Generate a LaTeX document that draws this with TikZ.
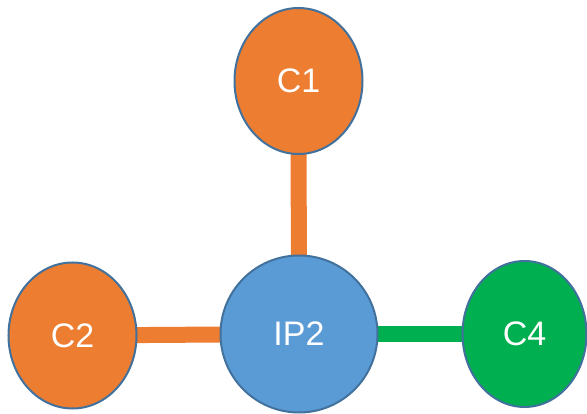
\documentclass[tikz,border=0pt]{standalone}
\usepackage{fontspec}
\setmainfont{Liberation Sans}
\usetikzlibrary{shapes.geometric,backgrounds}
\definecolor{cor}{HTML}{ED7D31}
\definecolor{cbl}{HTML}{5B9BD5}
\definecolor{cgr}{HTML}{00B050}
\definecolor{cln}{HTML}{41719C}
\begin{document}
\begin{tikzpicture}[x=1pt,y=-1pt,
  blob/.style={ellipse,draw=cln,line width=2pt,inner sep=0pt,text=white,font=\fontsize{34}{40}\selectfont,minimum width=128pt,minimum height=146pt},
  link/.style={line width=16pt}]
\useasboundingbox (0,0) rectangle (587,414);
\node[blob,fill=cor] (C1) at (298.5,81) {C1};
\node[blob,fill=cbl,minimum width=157pt,minimum height=157pt] (IP2) at (299,334) {IP2};
\node[blob,fill=cor] (C2) at (72.5,335.5) {C2};
\node[blob,fill=cgr,minimum width=124pt] (C4) at (524.5,334) {C4};
\begin{scope}[on background layer]
\draw[link,cor] (C1.center) -- (IP2.center);
\draw[link,cor] (C2.center) -- (IP2.center);
\draw[link,cgr] (C4.center) -- (IP2.center);
\end{scope}
\end{tikzpicture}
\end{document}
